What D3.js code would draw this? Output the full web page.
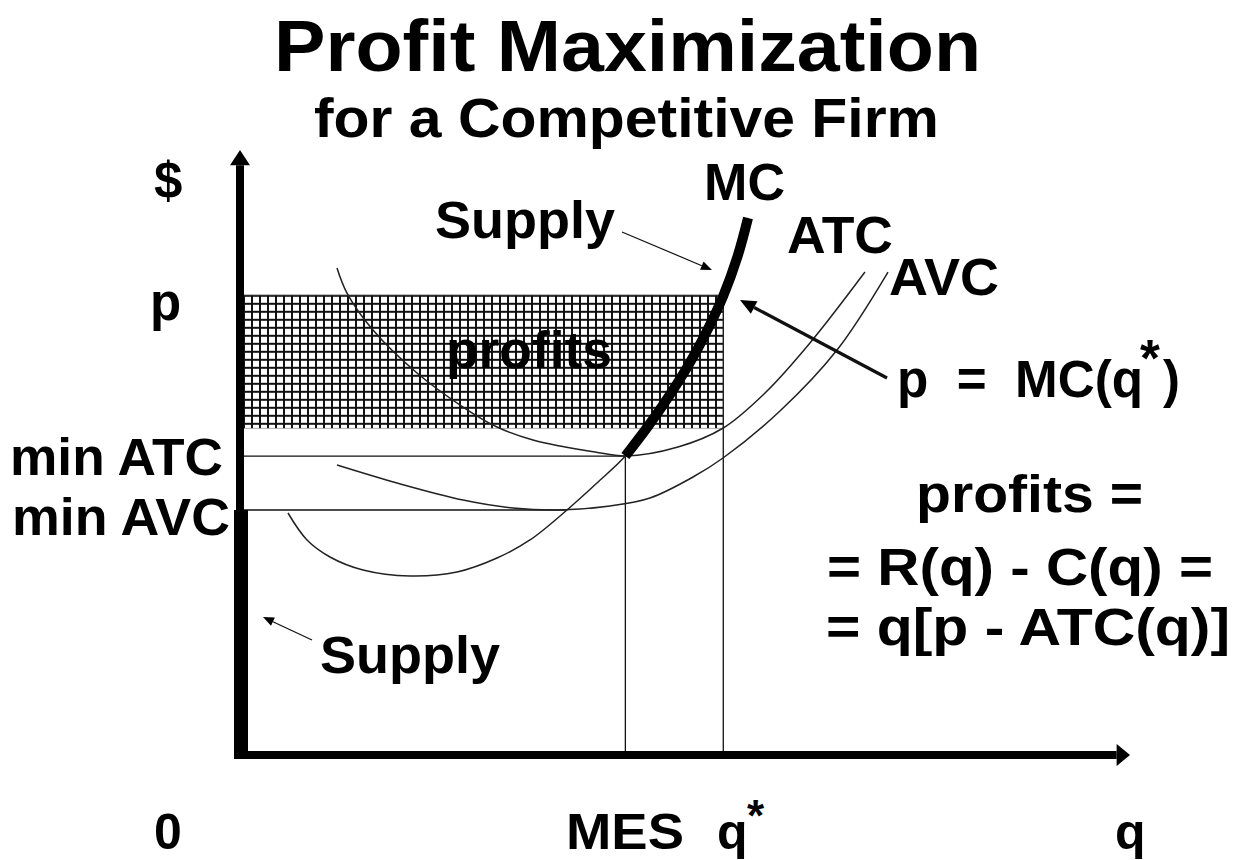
<!DOCTYPE html>
<html><head><meta charset="utf-8">
<script src="https://cdn.jsdelivr.net/npm/d3@7"></script>
<style>
html,body{margin:0;padding:0;background:#fff;}
svg{display:block;}
text{font-family:"Liberation Sans", Arial, sans-serif;font-weight:bold;fill:#000;}
</style></head><body>
<svg id="chart" width="1239" height="860"></svg>
<script>
// ---------- data (quantity q on x, $ on y; both in 0-100 units) ----------
const priceP = 75.9;        // market price p
const minATC = 49.4;        // minimum of ATC
const minAVC = 40.5;        // minimum of AVC
const qMES = 43.3;          // minimum efficient scale
const qStar = 54.3;         // profit-maximising output
const atcAtQStar = 54.0;    // ATC(q*)
const qMinAVC = 36.7;       // where MC crosses min AVC

const mcCurve = [
  [5.39,40.00],[7.53,35.54],[10.11,32.73],[13.82,30.58],[19.10,29.59],[24.38,30.25],
  [28.88,32.56],[32.58,35.54],[36.74,40.50],[40.11,44.96],[43.30,49.42],[45.87,54.38],
  [48.21,59.34],[50.33,64.30],[52.18,69.26],[54.30,75.90],[55.92,82.48],[57.08,88.76]
];
const atcCurve = [
  [10.90,80.50],[12.02,76.36],[14.94,70.25],[19.89,63.14],[25.06,57.52],[28.88,54.21],
  [32.92,52.07],[35.96,51.07],[39.89,50.08],[43.30,49.42],[49.21,50.91],[54.30,54.05],
  [58.99,59.83],[64.04,68.10],[70.22,79.83]
];
const avcCurve = [
  [10.90,47.93],[17.64,44.96],[25.06,42.15],[30.67,40.83],[35.96,40.50],[41.57,41.16],
  [46.07,42.48],[50.90,45.95],[54.27,49.09],[60.67,56.86],[67.08,66.94],[72.81,79.83]
];
const yTickLabels = ["$", "p", "min ATC", "min AVC"];
const xTickLabels = ["0", "MES", "q", "q"];

// annotation arrows in data units: [from, to]
const supplyArrowUpper = [[42.92,86.45],[53.03,80.17]];
const priceArrow = [[72.70,62.31],[56.18,75.21]];
const supplyArrowLower = [[8.09,19.01],[2.58,22.81]];

// ---------- scales ----------
const x = d3.scaleLinear().domain([0,100]).range([240,1130]);
const y = d3.scaleLinear().domain([0,100]).range([755,150]);

const svg = d3.select("#chart");
const defs = svg.append("defs");

// grid pattern for profits area
const pat = defs.append("pattern").attr("id","grid")
  .attr("patternUnits","userSpaceOnUse")
  .attr("x", x(0)+3).attr("y", y(priceP)-1)
  .attr("width",8).attr("height",8);
pat.append("rect").attr("width",8).attr("height",8).attr("fill","#fff");
pat.append("path").attr("d","M0,1H8M1,0V8").attr("stroke","#111").attr("stroke-width",2);

// profits rectangle
svg.append("rect")
  .attr("x", x(0)+3).attr("y", y(priceP)-1)
  .attr("width", x(qStar)-x(0)-3).attr("height", y(atcAtQStar)-y(priceP)+1)
  .attr("fill","url(#grid)").attr("stroke","#999").attr("stroke-width",0.8);

// guide lines
const thin = {stroke:"#111", "stroke-width":1.3};
function line(x1,y1,x2,y2,attrs){
  const l = svg.append("line").attr("x1",x1).attr("y1",y1).attr("x2",x2).attr("y2",y2);
  Object.entries(attrs).forEach(([k,v])=>l.attr(k,v));
  return l;
}
line(x(0), y(minATC), x(qMES), y(minATC), thin);
line(x(0), y(minAVC), x(qMinAVC), y(minAVC), thin);
line(x(qMES), y(minATC), x(qMES), y(0), thin);
line(x(qStar), y(priceP), x(qStar), y(0), thin);

// curves
const gen = d3.line().x(d=>x(d[0])).y(d=>y(d[1])).curve(d3.curveCatmullRom.alpha(0.5));
svg.append("path").attr("d", gen(atcCurve)).attr("fill","none").attr("stroke","#222").attr("stroke-width",1.5);
svg.append("path").attr("d", gen(avcCurve)).attr("fill","none").attr("stroke","#222").attr("stroke-width",1.5);
svg.append("path").attr("d", gen(mcCurve)).attr("fill","none").attr("stroke","#222").attr("stroke-width",1.5);
svg.append("path").attr("d", gen(mcCurve.filter(d=>d[0] >= qMES-0.05))).attr("fill","none").attr("stroke","#000").attr("stroke-width",10);

// axes
svg.append("line").attr("x1",x(0)).attr("x2",x(0)).attr("y1",y(0)+4).attr("y2",y(97.5))
  .attr("stroke","#000").attr("stroke-width",8);
svg.append("path").attr("d",`M${x(0)-10},${y(97.5)}L${x(0)+10},${y(97.5)}L${x(0)},${y(100)}Z`).attr("fill","#000");
svg.append("line").attr("x1",x(0)-4).attr("x2",x(98.5)).attr("y1",y(0)).attr("y2",y(0))
  .attr("stroke","#000").attr("stroke-width",8);
svg.append("path").attr("d",`M${x(98.5)},${y(0)-11}L${x(98.5)},${y(0)+11}L${x(100)},${y(0)}Z`).attr("fill","#000");
// supply along vertical axis below min AVC
svg.append("rect").attr("x",x(0)-6).attr("y",y(minAVC)).attr("width",14).attr("height",y(0)-y(minAVC)+4).attr("fill","#000");

// arrows
function arrow(seg, w, hl, hw){
  const [x1,y1] = [x(seg[0][0]), y(seg[0][1])];
  const [x2,y2] = [x(seg[1][0]), y(seg[1][1])];
  const a = Math.atan2(y2-y1, x2-x1);
  const bx = x2 - hl*Math.cos(a), by = y2 - hl*Math.sin(a);
  svg.append("line").attr("x1",x1).attr("y1",y1).attr("x2",bx).attr("y2",by)
    .attr("stroke","#111").attr("stroke-width",w);
  const px = -Math.sin(a)*hw/2, py = Math.cos(a)*hw/2;
  svg.append("path").attr("d",`M${x2},${y2}L${bx+px},${by+py}L${bx-px},${by-py}Z`).attr("fill","#000");
}
arrow(supplyArrowUpper, 1.2, 11, 9);
arrow(priceArrow, 3.2, 16, 14);
arrow(supplyArrowLower, 1.2, 11, 9);

// text
function txt(s, tx, ty, size, len){
  const t = svg.append("text").attr("x",tx).attr("y",ty).attr("font-size",size).attr("xml:space","preserve").style("white-space","pre").text(s);
  if(len){ t.attr("textLength",len).attr("lengthAdjust","spacingAndGlyphs"); }
  return t;
}
txt("Profit Maximization", 274, 71, 72, 707);
txt("for a Competitive Firm", 314, 137, 55, 625);

txt(yTickLabels[0], 154, 198, 51);
txt(yTickLabels[1], 150, 320, 51);
txt(yTickLabels[2], 10, 475, 51, 213);
txt(yTickLabels[3], 12, 535, 51, 218);

txt(xTickLabels[0], 154, 849, 50);
txt(xTickLabels[1], 566, 849, 50, 118);
txt(xTickLabels[2], 717, 849, 50);
txt("*", 747, 831, 44);
txt(xTickLabels[3], 1115, 849, 50);

txt("MC", 704, 200, 51, 81);
txt("ATC", 787, 253, 51, 106);
txt("AVC", 889, 295, 51, 110);
txt("Supply", 435, 238, 51, 180);
txt("Supply", 320, 673, 51, 180);
txt("profits", 446, 368, 51, 166);

txt("p  =  MC(q", 897, 397, 51, 246);
txt("*", 1140, 376, 51);
txt(")", 1163, 397, 51);
txt("profits =", 916, 512, 51, 227);
txt("= R(q) - C(q) =", 827, 585, 51, 386);
txt("= q[p - ATC(q)]", 826, 645, 51, 404);
</script>
</body></html>
